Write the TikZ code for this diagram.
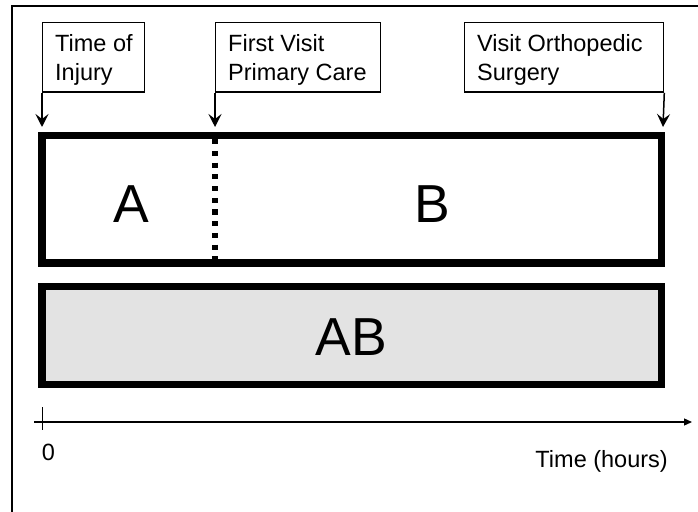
\documentclass[tikz,border=0pt]{standalone}
\usepackage{fontspec}
\setmainfont{Liberation Sans}
\usetikzlibrary{arrows.meta}
\begin{document}
\begin{tikzpicture}[x=1bp,y=-1bp,
  labelbox/.style={draw=black,line width=1.3bp,anchor=north west,inner sep=0pt},
  labeltext/.style={anchor=north west,inner sep=0pt,align=left,font=\fontsize{23.5bp}{28.3bp}\selectfont},
  bigtext/.style={anchor=base,inner sep=0pt,font=\fontsize{53.5bp}{60bp}\selectfont},
  axtext/.style={inner sep=0pt,font=\fontsize{23.5bp}{28bp}\selectfont},
  pointer/.style={line width=1.5bp,-{Stealth[length=13bp,width=13bp,inset=5bp]}},
  period/.style={draw=black,line width=7.5bp},
]
\useasboundingbox (0,0) rectangle (698,512);
\clip (0,0) rectangle (698,512);
% frame
\draw[line width=2bp] (12,530) -- (12,6) -- (720,6);
% label boxes
\node[labelbox,minimum width=102bp,minimum height=69.5bp] (tbox) at (42,22) {};
\node[labeltext] (ttxt) at (55,34.5) {Time of\\Injury};
\node[labelbox,minimum width=165bp,minimum height=69.5bp] (fbox) at (215,22) {};
\node[labeltext] (ftxt) at (228,34.5) {First Visit\\Primary Care};
\node[labelbox,minimum width=199bp,minimum height=69.5bp] (vbox) at (464,22) {};
\node[labeltext] (vtxt) at (477,34.5) {Visit Orthopedic\\Surgery};
\coordinate (ta) at (42,127);
\coordinate (fa) at (215,127);
\coordinate (va) at (663,127);
\draw[pointer] (tbox.south west) -- (ta);
\draw[pointer] (fbox.south west) -- (fa);
\draw[pointer] (vbox.south east) -- (va);
% period boxes
\draw[period] (42,135.5) rectangle (661.5,263);
\coordinate (dtop) at (215,139.3);
\coordinate (dbot) at (215,259.3);
\draw[line width=6bp,dash pattern=on 5bp off 6.7bp] (dtop) -- (dbot);
\node[bigtext] (a) at (131,222.7) {A};
\node[bigtext] (b) at (432,222.7) {B};
\draw[period,fill=black!11] (42,286.3) rectangle (661.5,384.3);
\node[bigtext] (ab) at (351,355) {AB};
% axis
\coordinate (ax0) at (34,422);
\coordinate (ax1) at (692,422);
\draw[line width=1.3bp,-{Triangle[length=8bp,width=7bp]}] (ax0) -- (ax1);
\coordinate (tk0) at (42,407);
\coordinate (tk1) at (42,430);
\draw[line width=1bp] (tk0) -- (tk1);
\node[axtext,anchor=base] (zero) at (48.5,460) {0};
\node[axtext,anchor=base east] (tlabel) at (668,467) {Time (hours)};
\end{tikzpicture}
\end{document}
